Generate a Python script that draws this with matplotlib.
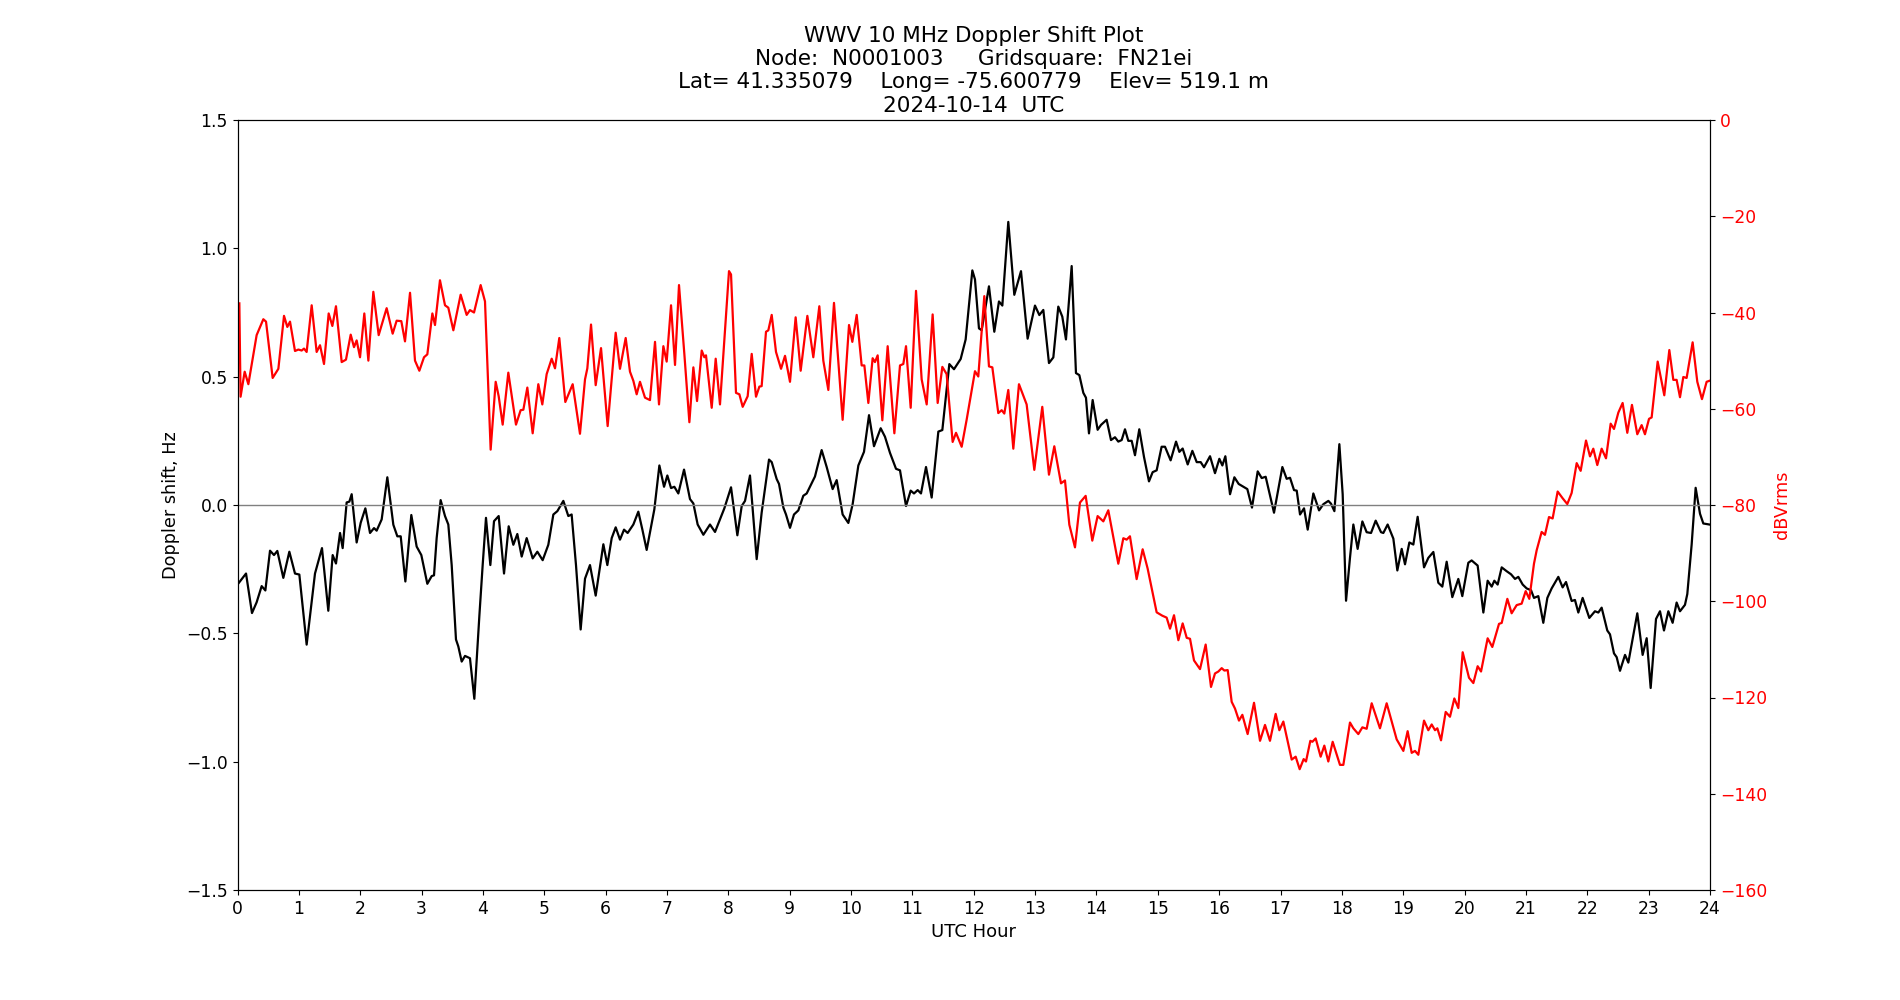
import numpy as np
import matplotlib
matplotlib.use("Agg")
import matplotlib.pyplot as plt

# Doppler shift trace (black), UTC hours / Hz
doppler_hours = [
    0.01, 0.139, 0.236, 0.312, 0.394, 0.454, 0.530, 0.595, 0.649, 0.747, 0.845, 0.937,
    1.008, 1.127, 1.263, 1.377, 1.480, 1.551, 1.605, 1.671, 1.714, 1.779, 1.823, 1.861,
    1.942, 2.008, 2.084, 2.160, 2.225, 2.268, 2.350, 2.442, 2.540, 2.605, 2.660, 2.736,
    2.833, 2.920, 2.996, 3.094, 3.165, 3.203, 3.246, 3.311, 3.382, 3.436, 3.491, 3.561,
    3.599, 3.654, 3.708, 3.789, 3.860, 3.942, 3.996, 4.050, 4.121, 4.181, 4.257, 4.344,
    4.420, 4.496, 4.561, 4.632, 4.713, 4.811, 4.887, 4.974, 5.066, 5.148, 5.213, 5.311,
    5.392, 5.446, 5.517, 5.593, 5.664, 5.745, 5.838, 5.963, 6.028, 6.099, 6.164, 6.234,
    6.300, 6.359, 6.452, 6.533, 6.599, 6.669, 6.794, 6.876, 6.952, 7.006, 7.066, 7.120,
    7.185, 7.278, 7.375, 7.430, 7.500, 7.593, 7.701, 7.783, 7.935, 8.044, 8.147, 8.218,
    8.272, 8.353, 8.462, 8.543, 8.663, 8.707, 8.788, 8.826, 8.897, 8.940, 9.005, 9.070,
    9.141, 9.222, 9.277, 9.412, 9.521, 9.603, 9.700, 9.766, 9.863, 9.956, 10.026, 10.119,
    10.211, 10.293, 10.374, 10.483, 10.553, 10.635, 10.733, 10.798, 10.896, 10.972, 11.026, 11.086,
    11.140, 11.222, 11.314, 11.423, 11.488, 11.602, 11.678, 11.787, 11.868, 11.977, 12.020, 12.085,
    12.129, 12.248, 12.335, 12.411, 12.466, 12.563, 12.661, 12.770, 12.878, 12.998, 13.069, 13.134,
    13.226, 13.297, 13.378, 13.443, 13.503, 13.596, 13.666, 13.721, 13.786, 13.829, 13.878, 13.938,
    14.019, 14.074, 14.166, 14.237, 14.302, 14.356, 14.411, 14.465, 14.519, 14.574, 14.628, 14.698,
    14.775, 14.856, 14.916, 14.981, 15.062, 15.117, 15.209, 15.297, 15.351, 15.405, 15.487, 15.563,
    15.634, 15.699, 15.753, 15.851, 15.932, 16.003, 16.052, 16.101, 16.177, 16.248, 16.318, 16.394,
    16.459, 16.535, 16.628, 16.693, 16.758, 16.894, 17.030, 17.100, 17.155, 17.220, 17.264, 17.318,
    17.383, 17.443, 17.535, 17.628, 17.698, 17.780, 17.823, 17.878, 17.959, 18.013, 18.068, 18.132,
    18.187, 18.257, 18.334, 18.404, 18.475, 18.551, 18.638, 18.676, 18.746, 18.839, 18.904, 18.975,
    19.029, 19.100, 19.165, 19.235, 19.339, 19.409, 19.491, 19.572, 19.637, 19.708, 19.800, 19.898,
    19.963, 20.061, 20.115, 20.213, 20.306, 20.376, 20.442, 20.485, 20.539, 20.605, 20.686, 20.757,
    20.822, 20.876, 20.947, 21.012, 21.083, 21.131, 21.202, 21.283, 21.349, 21.419, 21.528, 21.598,
    21.653, 21.745, 21.799, 21.854, 21.924, 22.033, 22.125, 22.180, 22.234, 22.326, 22.370, 22.435,
    22.479, 22.533, 22.615, 22.669, 22.815, 22.902, 22.968, 23.033, 23.120, 23.185, 23.250, 23.321,
    23.391, 23.456, 23.511, 23.592, 23.630, 23.701, 23.766, 23.837, 23.891, 23.989,
]
doppler_hz = [
    -0.307, -0.267, -0.421, -0.379, -0.316, -0.333, -0.178, -0.195, -0.179, -0.284, -0.182, -0.267,
    -0.271, -0.544, -0.267, -0.168, -0.412, -0.195, -0.228, -0.109, -0.168, 0.010, 0.013, 0.042,
    -0.146, -0.069, -0.013, -0.109, -0.090, -0.100, -0.056, 0.108, -0.077, -0.122, -0.122, -0.298,
    -0.039, -0.162, -0.195, -0.307, -0.277, -0.274, -0.129, 0.019, -0.043, -0.076, -0.234, -0.524,
    -0.551, -0.610, -0.588, -0.597, -0.755, -0.432, -0.234, -0.050, -0.234, -0.063, -0.043, -0.267,
    -0.083, -0.155, -0.113, -0.201, -0.129, -0.208, -0.182, -0.215, -0.155, -0.037, -0.024, 0.016,
    -0.043, -0.037, -0.234, -0.485, -0.287, -0.234, -0.353, -0.153, -0.234, -0.129, -0.087, -0.135,
    -0.096, -0.109, -0.076, -0.026, -0.096, -0.175, -0.017, 0.154, 0.071, 0.115, 0.066, 0.071,
    0.045, 0.138, 0.023, 0.006, -0.076, -0.116, -0.076, -0.105, -0.013, 0.069, -0.118, -0.004,
    0.016, 0.115, -0.211, -0.030, 0.177, 0.167, 0.101, 0.082, -0.010, -0.037, -0.089, -0.037,
    -0.021, 0.036, 0.045, 0.111, 0.214, 0.148, 0.062, 0.097, -0.037, -0.070, 0.003, 0.154,
    0.207, 0.350, 0.229, 0.299, 0.266, 0.203, 0.141, 0.135, -0.004, 0.056, 0.045, 0.058,
    0.045, 0.148, 0.029, 0.286, 0.292, 0.549, 0.529, 0.569, 0.645, 0.914, 0.879, 0.688,
    0.681, 0.852, 0.675, 0.793, 0.777, 1.103, 0.819, 0.911, 0.648, 0.777, 0.740, 0.760,
    0.553, 0.575, 0.773, 0.734, 0.645, 0.931, 0.514, 0.506, 0.437, 0.418, 0.279, 0.409,
    0.293, 0.312, 0.332, 0.253, 0.264, 0.247, 0.253, 0.295, 0.250, 0.250, 0.194, 0.295,
    0.187, 0.092, 0.128, 0.135, 0.227, 0.227, 0.174, 0.247, 0.207, 0.220, 0.158, 0.211,
    0.167, 0.167, 0.147, 0.190, 0.124, 0.180, 0.154, 0.190, 0.042, 0.108, 0.082, 0.071,
    0.062, -0.010, 0.131, 0.105, 0.110, -0.030, 0.148, 0.102, 0.106, 0.058, 0.056, -0.037,
    -0.013, -0.096, 0.045, -0.021, 0.003, 0.016, 0.005, -0.024, 0.237, 0.042, -0.373, -0.206,
    -0.076, -0.171, -0.064, -0.106, -0.109, -0.061, -0.106, -0.109, -0.076, -0.131, -0.255, -0.171,
    -0.231, -0.146, -0.154, -0.046, -0.243, -0.206, -0.183, -0.303, -0.318, -0.221, -0.359, -0.288,
    -0.355, -0.225, -0.216, -0.236, -0.419, -0.295, -0.318, -0.295, -0.310, -0.243, -0.258, -0.270,
    -0.288, -0.280, -0.310, -0.325, -0.332, -0.362, -0.355, -0.459, -0.362, -0.325, -0.280, -0.321,
    -0.300, -0.374, -0.370, -0.419, -0.362, -0.440, -0.414, -0.419, -0.400, -0.489, -0.504, -0.578,
    -0.593, -0.646, -0.584, -0.614, -0.422, -0.584, -0.519, -0.713, -0.444, -0.414, -0.489, -0.414,
    -0.459, -0.380, -0.414, -0.389, -0.347, -0.154, 0.067, -0.034, -0.072, -0.076,
]

# received signal level (red), UTC hours / dBVrms
power_hours = [
    0.03, 0.05, 0.117, 0.177, 0.312, 0.421, 0.465, 0.573, 0.666, 0.758, 0.812, 0.856,
    0.937, 0.992, 1.046, 1.084, 1.127, 1.209, 1.290, 1.345, 1.410, 1.486, 1.546, 1.605,
    1.698, 1.768, 1.845, 1.899, 1.942, 1.997, 2.067, 2.133, 2.214, 2.301, 2.431, 2.529,
    2.594, 2.670, 2.730, 2.812, 2.893, 2.964, 3.040, 3.094, 3.176, 3.219, 3.300, 3.382,
    3.436, 3.518, 3.637, 3.735, 3.789, 3.855, 3.963, 4.034, 4.126, 4.208, 4.257, 4.322,
    4.414, 4.539, 4.615, 4.659, 4.724, 4.811, 4.903, 4.968, 5.039, 5.121, 5.175, 5.245,
    5.343, 5.463, 5.582, 5.664, 5.702, 5.762, 5.838, 5.925, 6.033, 6.164, 6.234, 6.327,
    6.397, 6.452, 6.506, 6.560, 6.642, 6.723, 6.805, 6.870, 6.941, 6.995, 7.066, 7.131,
    7.196, 7.283, 7.365, 7.430, 7.490, 7.566, 7.609, 7.636, 7.729, 7.794, 7.864, 8.011,
    8.044, 8.125, 8.180, 8.234, 8.315, 8.381, 8.451, 8.506, 8.543, 8.614, 8.652, 8.707,
    8.777, 8.859, 8.924, 9.005, 9.097, 9.179, 9.288, 9.385, 9.483, 9.548, 9.630, 9.722,
    9.863, 9.967, 10.021, 10.092, 10.173, 10.217, 10.282, 10.352, 10.390, 10.434, 10.510, 10.597,
    10.706, 10.798, 10.852, 10.896, 10.972, 11.059, 11.151, 11.233, 11.330, 11.412, 11.488, 11.558,
    11.656, 11.711, 11.803, 11.884, 12.020, 12.074, 12.172, 12.248, 12.303, 12.400, 12.455, 12.498,
    12.563, 12.645, 12.737, 12.862, 12.987, 13.117, 13.226, 13.313, 13.422, 13.487, 13.558, 13.650,
    13.731, 13.824, 13.932, 14.019, 14.112, 14.193, 14.356, 14.438, 14.492, 14.546, 14.655, 14.753,
    14.834, 14.981, 15.073, 15.144, 15.199, 15.264, 15.335, 15.405, 15.471, 15.525, 15.590, 15.688,
    15.780, 15.867, 15.932, 15.987, 16.041, 16.085, 16.139, 16.204, 16.258, 16.323, 16.378, 16.464,
    16.568, 16.666, 16.747, 16.828, 16.921, 16.981, 17.046, 17.182, 17.247, 17.312, 17.377, 17.415,
    17.486, 17.519, 17.573, 17.654, 17.714, 17.779, 17.850, 17.969, 18.024, 18.132, 18.187, 18.268,
    18.334, 18.404, 18.486, 18.621, 18.730, 18.893, 19.002, 19.072, 19.138, 19.192, 19.246, 19.339,
    19.409, 19.464, 19.518, 19.556, 19.616, 19.692, 19.762, 19.833, 19.898, 19.969, 20.072, 20.143,
    20.213, 20.268, 20.376, 20.452, 20.561, 20.605, 20.697, 20.767, 20.849, 20.930, 20.996, 21.055,
    21.131, 21.175, 21.256, 21.310, 21.376, 21.435, 21.517, 21.598, 21.674, 21.745, 21.827, 21.892,
    21.979, 22.044, 22.098, 22.163, 22.234, 22.305, 22.381, 22.435, 22.506, 22.576, 22.652, 22.728,
    22.815, 22.886, 22.940, 23.006, 23.049, 23.147, 23.255, 23.337, 23.402, 23.456, 23.511, 23.565,
    23.619, 23.717, 23.793, 23.869, 23.945, 23.989,
]
power_db = [
    -38.1, -57.5, -52.3, -54.9, -44.7, -41.4, -41.9, -53.6, -51.7, -40.7, -43.0, -41.9,
    -48.0, -47.7, -47.9, -47.5, -48.2, -38.5, -48.2, -46.8, -50.7, -40.2, -42.8, -38.7,
    -50.3, -49.8, -44.6, -47.2, -45.8, -49.3, -40.2, -50.0, -35.7, -44.7, -39.1, -44.4,
    -41.7, -41.8, -46.0, -35.9, -50.0, -52.1, -49.3, -48.7, -40.2, -42.6, -33.3, -38.5,
    -39.0, -43.7, -36.3, -40.5, -39.5, -40.0, -34.3, -37.7, -68.5, -54.4, -57.4, -63.3,
    -52.5, -63.3, -60.3, -60.2, -55.6, -65.1, -54.9, -59.1, -52.8, -49.6, -51.6, -45.3,
    -58.6, -54.9, -65.2, -53.9, -51.6, -42.5, -55.1, -47.4, -63.6, -44.2, -51.7, -45.3,
    -52.3, -54.2, -57.0, -54.4, -57.7, -58.2, -46.1, -59.1, -47.0, -50.2, -38.5, -50.9,
    -34.3, -48.6, -62.8, -51.4, -58.4, -47.9, -49.3, -48.9, -59.8, -49.6, -59.1, -31.4,
    -32.1, -56.7, -57.0, -59.6, -57.4, -48.6, -57.5, -55.4, -55.3, -44.0, -43.7, -40.5,
    -48.2, -51.7, -49.0, -54.4, -41.0, -52.1, -40.7, -49.3, -38.7, -50.0, -56.1, -38.0,
    -62.3, -42.6, -46.1, -40.5, -51.0, -51.0, -58.8, -49.5, -50.3, -48.9, -62.4, -47.0,
    -65.1, -51.0, -50.7, -47.0, -59.8, -35.5, -53.9, -59.1, -40.4, -58.8, -51.3, -52.8,
    -66.9, -65.0, -67.9, -62.3, -52.2, -53.3, -36.6, -51.2, -51.4, -60.9, -60.3, -61.0,
    -56.1, -68.3, -54.9, -59.1, -72.7, -59.6, -73.7, -67.8, -75.5, -74.9, -84.1, -88.8,
    -79.5, -78.1, -87.4, -82.3, -83.4, -81.1, -92.2, -86.9, -87.2, -86.5, -95.4, -89.2,
    -93.2, -102.3, -103.0, -103.4, -105.7, -102.9, -108.1, -104.6, -107.6, -107.8, -112.3, -114.1,
    -109.0, -117.8, -115.0, -114.6, -113.9, -114.4, -114.3, -120.9, -122.3, -124.8, -123.6, -127.6,
    -121.1, -129.0, -125.7, -129.0, -123.4, -126.8, -125.0, -132.9, -132.3, -134.9, -132.8, -133.3,
    -129.0, -129.2, -128.5, -132.3, -130.0, -133.3, -129.2, -134.0, -134.0, -125.2, -126.4, -127.6,
    -126.2, -126.5, -121.2, -126.4, -121.2, -128.7, -131.1, -127.0, -131.5, -131.1, -131.9, -124.8,
    -126.8, -125.6, -126.8, -126.4, -128.9, -123.0, -124.0, -120.2, -122.2, -110.6, -115.9, -117.0,
    -113.5, -114.6, -107.7, -109.5, -104.7, -104.5, -99.5, -102.5, -100.8, -100.5, -97.9, -99.5,
    -92.2, -89.4, -85.6, -86.2, -82.5, -82.8, -77.2, -78.6, -79.8, -77.5, -71.3, -72.9,
    -66.6, -69.9, -68.3, -71.7, -68.3, -70.3, -63.1, -64.2, -60.8, -58.8, -65.0, -59.2,
    -65.3, -63.4, -65.3, -62.1, -61.8, -50.2, -57.2, -47.8, -54.0, -54.0, -57.6, -53.4,
    -53.6, -46.2, -54.4, -58.0, -54.4, -54.2,
]

node = "N0001003"
grid = "FN21ei"
lat, lon, elev = "41.335079", "-75.600779", "519.1"
date = "2024-10-14"

fig, ax1 = plt.subplots(figsize=(19, 10), dpi=100)

ax1.plot(doppler_hours, doppler_hz, color="black", linewidth=1.6)
ax1.axhline(0, color="grey", linewidth=1)
ax1.set_xlim(0, 24)
ax1.set_ylim(-1.5, 1.5)
ax1.set_xticks(np.arange(0, 25, 1))
ax1.set_xlabel("UTC Hour", fontsize=13)
ax1.set_ylabel("Doppler shift, Hz", fontsize=12.7)
ax1.tick_params(labelsize=12.3)

ax2 = ax1.twinx()
ax2.plot(power_hours, power_db, color="red", linewidth=1.6)
ax2.set_ylim(-160, 0)
ax2.set_ylabel("dBVrms", color="red", fontsize=12.7)
ax2.tick_params(axis="y", labelcolor="red", labelsize=12.3)

ax1.set_title("WWV 10 MHz Doppler Shift Plot\n"
              "Node:  " + node + "     Gridsquare:  " + grid + "\n"
              "Lat= " + lat + "    Long= " + lon + "    Elev= " + elev + " m\n"
              + date + "  UTC", fontsize=15.5)

plt.savefig("out.png")
